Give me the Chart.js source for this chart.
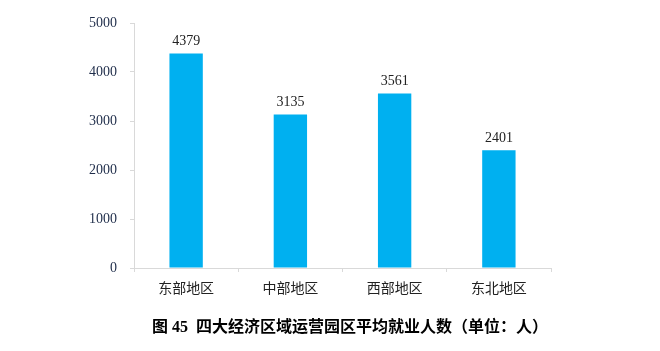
<!DOCTYPE html>
<html>
<head>
<meta charset="utf-8">
<script src="https://cdn.jsdelivr.net/npm/chart.js@4/dist/chart.umd.min.js"></script>
<style>
  html, body { margin: 0; padding: 0; background: #fff; }
  #wrap { width: 660px; height: 351px; }
</style>
</head>
<body>
<div id="wrap"><canvas id="jobsChart" width="660" height="351"></canvas></div>
<script>
// data
const regions = ['东部地区', '中部地区', '西部地区', '东北地区'];
const avgJobs = [4379, 3135, 3561, 2401];
const yTicks = [0, 1000, 2000, 3000, 4000, 5000];
const chartTitle = '图 45  四大经济区域运营园区平均就业人数（单位：人）';

const FONT = "'Liberation Serif', 'Times New Roman', 'Noto Sans CJK SC', serif";
const AXIS_GRAY = '#d9d9d9';

// draw the value above each bar
const valueLabels = {
    id: 'valueLabels',
    afterDatasetsDraw(chart) {
        const ctx = chart.ctx;
        const meta = chart.getDatasetMeta(0);
        ctx.save();
        ctx.font = '14px ' + FONT;
        ctx.fillStyle = '#222';
        ctx.textAlign = 'center';
        ctx.textBaseline = 'bottom';
        meta.data.forEach((bar, i) => {
            ctx.fillText(String(avgJobs[i]), bar.x, bar.y - 5);
        });
        ctx.restore();
    }
};

// caption under the chart (centred a little right of the canvas middle, like the source)
const caption = {
    id: 'caption',
    afterDraw(chart) {
        const ctx = chart.ctx;
        ctx.save();
        ctx.font = "bold 16px 'Liberation Serif', 'Noto Sans CJK SC', serif";
        ctx.fillStyle = '#000';
        ctx.textAlign = 'center';
        ctx.textBaseline = 'middle';
        ctx.fillText(chartTitle, 350, 328);
        ctx.restore();
    }
};

new Chart(document.getElementById('jobsChart'), {
    type: 'bar',
    data: {
        labels: regions,
        datasets: [{
            data: avgJobs,
            backgroundColor: '#00b0f0',
            borderWidth: 0,
            categoryPercentage: 1,
            barPercentage: 0.32
        }]
    },
    options: {
        responsive: false,
        animation: false,
        layout: { padding: { top: 23, right: 109, bottom: 43, left: 0 } },
        plugins: {
            legend: { display: false },
            tooltip: { enabled: false },
            title: { display: false }
        },
        scales: {
            x: {
                grid: { display: true, drawOnChartArea: false, color: AXIS_GRAY, tickLength: 4, offset: true },
                border: { color: AXIS_GRAY, width: 1 },
                ticks: { color: '#222', padding: 7, font: { family: "'Noto Sans CJK SC', serif", size: 14 } },
                afterFit(scale) { scale.height = 40; }
            },
            y: {
                min: 0,
                max: 5000,
                afterBuildTicks(scale) { scale.ticks = yTicks.map(v => ({ value: v })); },
                grid: { display: true, drawOnChartArea: false, color: AXIS_GRAY, tickLength: 4 },
                border: { color: AXIS_GRAY, width: 1 },
                ticks: {
                    color: '#1f2d4a',
                    padding: 13,
                    font: { family: FONT, size: 14 },
                    callback: v => String(v)
                },
                afterFit(scale) { scale.width = 134; }
            }
        }
    },
    plugins: [valueLabels, caption]
});
</script>
</body>
</html>
